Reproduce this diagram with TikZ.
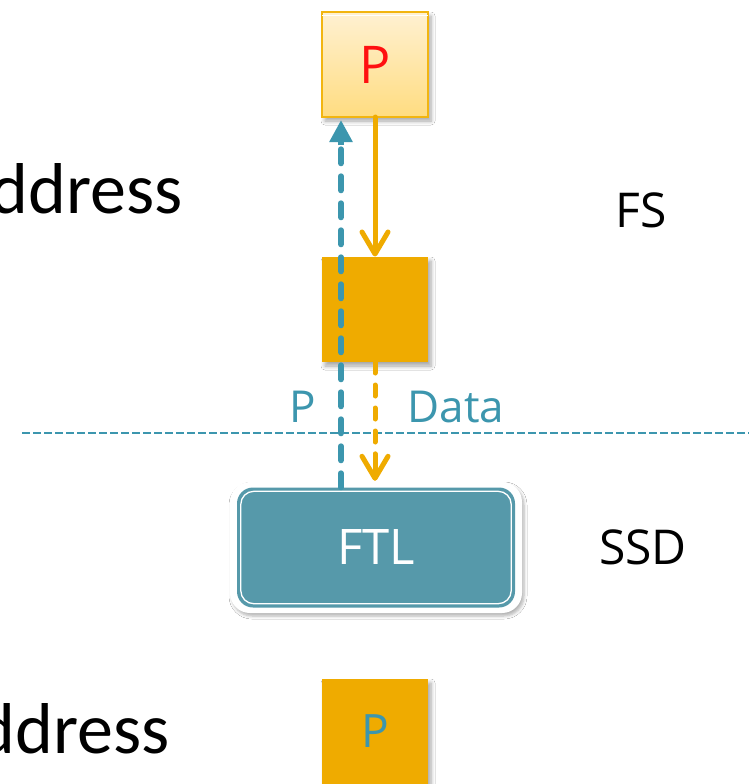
\documentclass[tikz,border=0pt]{standalone}
\usepackage{fontspec}
\setmainfont{Open Sans}
\newfontfamily\calib{Carlito}
\usetikzlibrary{arrows.meta,shadows.blur,calc}

\definecolor{amber}{HTML}{EFAB00}
\definecolor{amberedge}{HTML}{F2B510}
\definecolor{paletop}{HTML}{FFF1D2}
\definecolor{palebot}{HTML}{FFDC80}
\definecolor{teal}{HTML}{3C96AE}
\definecolor{tealbox}{HTML}{5699AA}
\definecolor{pred}{HTML}{FF1010}

\tikzset{
  softshadow/.style={blur shadow={shadow xshift=3pt, shadow yshift=-4pt,
      shadow blur radius=4pt, shadow blur steps=6, shadow opacity=35}},
  pagebox/.style={minimum width=106pt, minimum height=105pt, inner sep=0pt,
      outer sep=0pt, softshadow},
  flowline/.style={amber, line width=5pt, line cap=round},
  barbtip/.style={-{Straight Barb[length=22pt, width=26pt, line width=5pt,
      line cap=round, line join=round]}},
  addrline/.style={teal, line width=6pt, line cap=round, dash pattern=on 14pt off 13pt},
  dataline/.style={amber, line width=5pt, line cap=round, dash pattern=on 11pt off 12pt},
  layerline/.style={teal, line width=2.5pt, dash pattern=on 8pt off 3pt},
  sidelabel/.style={font=\fontsize{48}{48}\selectfont, anchor=center},
  flowlabel/.style={text=teal, font=\fontsize{44}{44}\selectfont},
  bigword/.style={font=\calib\fontsize{72}{72}\selectfont, anchor=base east},
}

\begin{document}
\begin{tikzpicture}[x=1pt, y=-1pt]
\useasboundingbox (0,0) rectangle (749,784);
\clip (0,0) rectangle (749,784);
\fill[white] (0,0) rectangle (749,784);

% left-hand words, running off the left edge
\node[bigword] (addrtop) at (186,213) {ddress};
\node[bigword] (addrbot) at (173,753) {ddress};

% layer boundary between file system and device
\draw[layerline] (22,433) -- (749,433);

% file-system page and buffer
\node[pagebox, top color=paletop, bottom color=palebot, draw=amberedge,
      line width=1.5pt] (ptop) at (375,64.5)
      {\textcolor{pred}{\fontsize{52}{52}\selectfont P}};
\draw[white, line width=0.8pt] ([yshift=-3.5pt]ptop.north west) -- ([yshift=-3.5pt]ptop.north east);
\node[pagebox, fill=amber] (buf) at (375,309.5) {};

% flash translation layer
\node[minimum width=292pt, minimum height=131pt, rounded corners=20pt,
      fill=white, blur shadow={shadow xshift=2pt, shadow yshift=-3pt,
      shadow blur radius=3pt, shadow blur steps=5, shadow opacity=30}] (ftlout) at (376,547.5) {};
\node[minimum width=278pt, minimum height=120pt, rounded corners=16pt,
      fill=tealbox, inner sep=0pt] (ftl) at (376,547.5)
      {\textcolor{white}{\fontsize{49}{49}\selectfont FTL}};
\draw[white, line width=1.3pt, rounded corners=13pt]
      ($(ftl.north west)+(4,4)$) rectangle ($(ftl.south east)+(-4,-4)$);

% physical page on flash
\node[pagebox, fill=amber, anchor=north] (pbot) at (375,679)
      {\textcolor{teal}{\fontsize{46}{46}\selectfont P}};

% page written from the application into the buffer
\draw[flowline, barbtip, shorten >=0.5pt] (ptop.south) -- (buf.north);

% data sent down to the device
\coordinate (datafoot) at (ftlout.north -| buf.south);
\draw[dataline] (buf.south) -- ([yshift=28pt]datafoot);
\draw[flowline, barbtip, shorten >=1pt] ([yshift=28pt]datafoot) -- (datafoot);

% address returned up to the file system
\coordinate (addrfoot) at ([xshift=-35pt]ftl.north);
\coordinate (addrhead) at ([xshift=-34pt]ptop.south);
\draw[addrline] (addrfoot) -- ([yshift=-28pt]addrhead);
\draw[teal, line width=6pt, -{Triangle[length=22pt, width=22pt]}, shorten >=3pt]
      ([yshift=-28pt]addrhead) -- (addrhead);

% labels on the two flows
\node[flowlabel, anchor=base] (plab) at (303,422) {P};
\node[flowlabel, anchor=base west] (dlab) at (404,422) {Data};

% layer names
\node[sidelabel] (fs) at (641,210) {FS};
\node[sidelabel] (ssd) at (643,547) {SSD};
\end{tikzpicture}
\end{document}
